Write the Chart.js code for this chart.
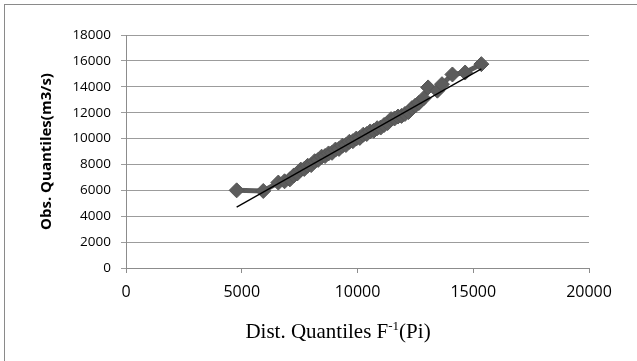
<!DOCTYPE html>
<html>
<head>
<meta charset="utf-8">
<script src="https://cdn.jsdelivr.net/npm/chart.js@4.4.1/dist/chart.umd.min.js"></script>
<style>
  html, body { margin: 0; padding: 0; background: #fff; }
  #wrap { width: 637px; height: 361px; position: relative; }
</style>
</head>
<body>
<div id="wrap"><canvas id="quantileGraph" width="637" height="361"></canvas></div>
<script>
const distQuantiles = [4780, 5930, 6580, 6850, 7080, 7250, 7400, 7550, 7700, 7850,
  8000, 8150, 8300, 8450, 8600, 8750, 8900, 9050, 9200, 9350,
  9500, 9650, 9800, 9950, 10100, 10250, 10400, 10550, 10700, 10850,
  11000, 11150, 11300, 11450, 11600, 11750, 11900, 12050, 12200, 12350,
  12500, 12650, 12850, 13050, 13450, 13650, 14100, 14650, 15350];
const obsQuantiles = [6000, 5950, 6600, 6700, 6850, 7150, 7300, 7600, 7650, 7900,
  7950, 8250, 8350, 8600, 8650, 8850, 8900, 9150, 9200, 9450,
  9500, 9750, 9800, 10000, 10050, 10300, 10350, 10550, 10600, 10800,
  10850, 11050, 11200, 11500, 11550, 11700, 11750, 11900, 12050, 12350,
  12550, 12750, 13100, 13950, 13700, 14200, 14950, 15100, 15750];

// linear trend line end points
const trendX = [4780, 15350];
const trendY = [4700, 15380];

const xTitleParts = ['Dist. Quantiles F', '-1', '(Pi)'];
const yTitle = 'Obs. Quantiles(m3/s)';

const xMin = 0, xMax = 20000, xStep = 5000;
const yMin = 0, yMax = 18000, yStep = 2000;

const gridColor = '#9c9c9c';
const axisColor = '#8c8c8c';

const canvas_el = document.getElementById('quantileGraph');
const ctxQuantile = canvas_el.getContext('2d');

// outer frame + axis titles (x title needs a superscript)
const titlesPlugin = {
  id: 'titles',
  beforeDraw(chart) {
    const ctx = chart.ctx;
    ctx.save();
    ctx.strokeStyle = '#8a8a8a';
    ctx.lineWidth = 1;
    ctx.strokeRect(4.5, 4.5, 700, 400);
    ctx.restore();
  },
  afterDraw(chart) {
    const ctx = chart.ctx;
    const area = chart.chartArea;
    ctx.save();
    ctx.fillStyle = '#000';

    // y title
    ctx.translate(47, (area.top + area.bottom) / 2);
    ctx.rotate(-Math.PI / 2);
    ctx.font = 'bold 15px "Open Sans"';
    ctx.textAlign = 'center';
    ctx.textBaseline = 'middle';
    ctx.fillText(yTitle, 0, 0);
    ctx.setTransform(1, 0, 0, 1, 0, 0);

    // x title
    const mainFont = '21px "Liberation Serif"';
    const supFont = '13px "Liberation Serif"';
    ctx.textAlign = 'left';
    ctx.textBaseline = 'alphabetic';
    ctx.font = mainFont;
    const w0 = ctx.measureText(xTitleParts[0]).width;
    const w2 = ctx.measureText(xTitleParts[2]).width;
    ctx.font = supFont;
    const w1 = ctx.measureText(xTitleParts[1]).width;
    const total = w0 + w1 + w2;
    let x = 338 - total / 2;
    const baseY = 338;
    ctx.font = mainFont;
    ctx.fillText(xTitleParts[0], x, baseY);
    x += w0;
    ctx.font = supFont;
    ctx.fillText(xTitleParts[1], x, baseY - 8);
    x += w1;
    ctx.font = mainFont;
    ctx.fillText(xTitleParts[2], x, baseY);
    ctx.restore();
  }
};

function createQuantileGraph() {
  return new Chart(ctxQuantile, {
    type: 'scatter',
    data: {
      datasets: [{
        // trend line
        data: trendX.map((v, i) => ({ x: v, y: trendY[i] })),
        showLine: true,
        borderColor: '#000000',
        borderWidth: 1.3,
        pointRadius: 0,
        order: 0,
      }, {
        data: distQuantiles.map((v, i) => ({ x: v, y: obsQuantiles[i] })),
        showLine: true,
        borderColor: '#5c5c5c',
        borderWidth: 5,
        pointStyle: 'rectRot',
        pointRadius: 7.5,
        pointBackgroundColor: '#5c5c5c',
        pointBorderColor: '#555555',
        pointBorderWidth: 1,
        order: 1,
      }]
    },
    options: {
      responsive: false,
      animation: false,
      devicePixelRatio: 1,
      layout: {
        padding: { top: 35, right: 48, left: 0, bottom: 0 },
      },
      plugins: {
        legend: { display: false },
        tooltip: { enabled: false },
      },
      scales: {
        x: {
          type: 'linear',
          min: xMin,
          max: xMax,
          afterFit(scale) { scale.height = 93; },
          grid: {
            drawOnChartArea: false,
            drawTicks: true,
            tickLength: 5,
            color: axisColor,
          },
          border: { color: axisColor },
          ticks: {
            stepSize: xStep,
            padding: 10,
            color: '#000',
            font: { family: '"Open Sans"', size: 16 },
            callback: v => String(v),
            maxRotation: 0,
          },
        },
        y: {
          type: 'linear',
          min: yMin,
          max: yMax,
          afterFit(scale) { scale.width = 126; },
          grid: {
            color: gridColor,
            tickLength: 5,
          },
          border: { color: axisColor },
          ticks: {
            stepSize: yStep,
            padding: 10,
            color: '#000',
            font: { family: '"Open Sans"', size: 13.5 },
            callback: v => String(v),
          },
        },
      },
    },
    plugins: [titlesPlugin],
  });
}

let quantileGraph = createQuantileGraph();
</script>
</body>
</html>
